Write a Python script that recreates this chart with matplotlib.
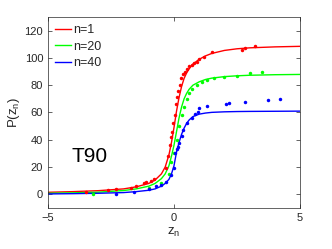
import matplotlib
matplotlib.use("Agg")
import matplotlib.pyplot as plt

plt.rcParams['font.family'] = ['Liberation Sans', 'DejaVu Sans']

# fitted curves
curve_x = [-5, -4, -3, -2, -1.5, -1, -0.75, -0.5, -0.35, -0.2, -0.1, 0, 0.1, 0.2, 0.3, 0.4, 0.5, 0.6, 0.75, 1, 1.25, 1.5, 2, 2.5, 3, 4, 5]
red_curve = [1.5, 2, 2.7, 4, 5.5, 8, 10.5, 15, 20, 29, 38, 49, 61, 71, 79, 85, 89, 92, 95.5, 99, 101.5, 103.3, 105.5, 106.7, 107.4, 108.1, 108.5]
green_curve = [0.8, 1.1, 1.6, 2.8, 4, 6, 8, 11.5, 15, 21, 28, 36, 46, 56, 64, 70, 74, 77, 80, 82.5, 84.2, 85.2, 86.3, 86.9, 87.3, 87.7, 87.9]
blue_curve = [0.3, 0.5, 0.8, 1.3, 2, 3, 4, 6, 8, 11, 15, 21, 31, 38, 44, 48.5, 52, 54.5, 57, 58.8, 59.6, 60.1, 60.5, 60.7, 60.8, 60.9, 61]

# measured points
red_x = [-3.5, -2.6, -2.3, -1.7, -1.5, -1.2, -1.1, -0.9, -0.8, -0.3, -0.22, -0.17, -0.12, -0.07, -0.02, 0.03, 0.08, 0.12, 0.17, 0.22, 0.28, 0.35, 0.42, 0.5, 0.6, 0.7, 0.8, 0.9, 1.0, 1.2, 1.5, 2.7, 2.8, 3.2]
red_y = [2, 3, 4, 5, 6, 8, 9, 10, 11, 19, 28, 36, 42, 46, 52, 58, 66, 71, 76, 80, 85, 88, 90, 92, 94, 95, 96, 97, 99, 101, 104, 106, 107.5, 108.5]
green_x = [-3.2, -1.0, -0.5, -0.2, -0.1, 0.0, 0.1, 0.2, 0.3, 0.4, 0.5, 0.6, 0.7, 0.9, 1.1, 1.3, 1.6, 2.0, 2.5, 3.0, 3.5]
green_y = [0.5, 5, 8, 15, 24, 30, 40, 50, 58, 64, 70, 74, 77, 80, 82, 84, 85, 86, 87, 89, 90]
blue_x = [-2.3, -1.6, -1.0, -0.7, -0.5, -0.3, -0.1, 0.0, 0.05, 0.1, 0.15, 0.2, 0.3, 0.35, 0.5, 0.7, 0.85, 0.95, 1.0, 1.3, 2.05, 2.2, 2.8, 3.75, 4.2]
blue_y = [0.5, 2, 4, 6, 7, 9, 14, 19, 30, 33, 35, 38, 43, 47, 52, 56, 59, 60, 63.5, 65, 66, 67, 68, 69, 70]

labels = ['n=1', 'n=20', 'n=40']
colors = ['#ff0000', '#00ff00', '#0000ff']

fig = plt.figure(figsize=(3.32, 2.49), dpi=100)
ax = fig.add_axes([0.1446, 0.1647, 0.759, 0.767])

for cy, c, lab in zip([red_curve, green_curve, blue_curve], colors, labels):
    ax.plot(curve_x, cy, color=c, lw=1.0, label=lab)
for px, py, c in zip([red_x, green_x, blue_x], [red_y, green_y, blue_y], colors):
    ax.plot(px, py, '.', color=c, ms=5, mew=0)

ax.set_xlim(-5, 5)
ax.set_ylim(-10, 130)
ax.set_xticks([-5, 0, 5])
ax.set_yticks([0, 20, 40, 60, 80, 100, 120])
ax.tick_params(direction='in', length=3, width=0.5, labelsize=8, colors='#262626', top=True, right=True, labeltop=False, labelright=False)
for s in ax.spines.values():
    s.set_linewidth(0.5)
    s.set_color('#262626')
ax.set_xlabel(r'z$_\mathregular{n}$', fontsize=9.5, color='#262626', labelpad=2)
ax.set_ylabel(r'P(z$_\mathregular{n}$)', fontsize=9.5, color='#262626', labelpad=2)
ax.text(-4.05, 24, 'T90', fontsize=15)
leg = ax.legend(loc='upper left', frameon=False, fontsize=9, handlelength=1.3, handletextpad=0.2, labelspacing=0.38, borderaxespad=0.2, borderpad=0.35, labelcolor='#262626')
fig.savefig('out.png', dpi=100)
